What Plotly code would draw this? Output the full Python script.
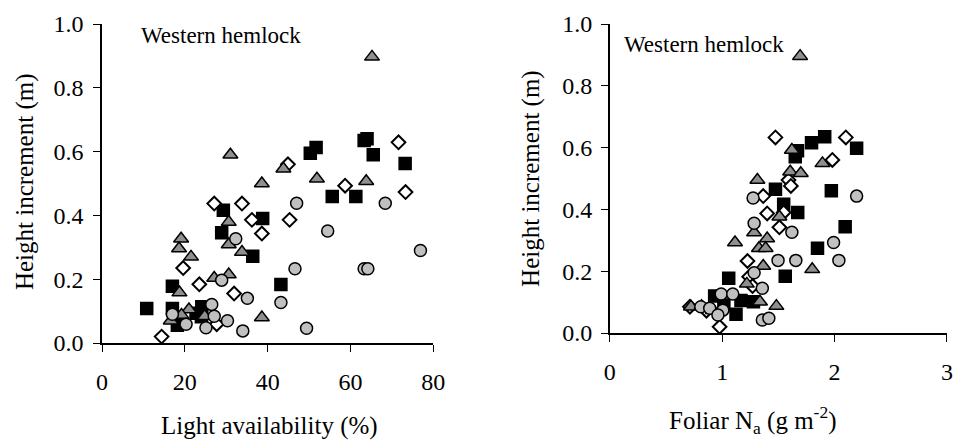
import plotly.graph_objects as go

# ---------- Left panel: Light availability (%) vs height increment (m) ----------
light_sq_x = [63.3, 64.0, 51.7, 50.3, 65.5, 73.2, 55.6, 61.3, 38.8, 29.3, 28.9, 36.4, 43.2, 17.0, 10.8, 17.0, 24.1, 22.7, 24.0, 18.2]
light_sq_y = [0.635, 0.64, 0.613, 0.595, 0.59, 0.563, 0.459, 0.459, 0.39, 0.416, 0.346, 0.272, 0.183, 0.178, 0.108, 0.108, 0.114, 0.093, 0.082, 0.056]

light_di_x = [71.6, 44.9, 58.7, 73.3, 45.3, 27.1, 33.8, 36.2, 38.6, 19.6, 23.5, 31.9, 27.7, 14.4]
light_di_y = [0.629, 0.56, 0.493, 0.473, 0.386, 0.437, 0.437, 0.386, 0.343, 0.235, 0.184, 0.155, 0.059, 0.02]

light_tr_x = [65.2, 31.0, 43.8, 38.6, 51.9, 63.8, 30.6, 19.1, 18.6, 30.6, 33.8, 21.5, 27.1, 30.6, 18.7, 21.0, 19.2, 16.6, 24.8, 38.6]
light_tr_y = [0.897, 0.59, 0.546, 0.50, 0.515, 0.507, 0.379, 0.327, 0.296, 0.309, 0.285, 0.27, 0.204, 0.215, 0.158, 0.105, 0.0875, 0.07, 0.084, 0.08]

light_ci_x = [47.0, 68.4, 54.5, 76.9, 46.6, 63.3, 64.2, 43.2, 49.4, 32.3, 28.9, 35.1, 26.5, 17.0, 20.3, 27.1, 25.1, 30.3, 34.0]
light_ci_y = [0.438, 0.438, 0.351, 0.29, 0.233, 0.233, 0.233, 0.127, 0.046, 0.327, 0.197, 0.14, 0.121, 0.09, 0.059, 0.084, 0.048, 0.07, 0.038]

# ---------- Right panel: Foliar Na (g m-2) vs height increment (m) ----------
n_sq_x = [1.474, 1.67, 1.65, 1.795, 1.912, 2.196, 1.971, 1.547, 1.672, 2.094, 1.848, 1.561, 1.278, 1.058, 0.933, 1.167, 1.015, 1.123]
n_sq_y = [0.465, 0.59, 0.57, 0.616, 0.635, 0.598, 0.46, 0.417, 0.39, 0.344, 0.274, 0.184, 0.101, 0.177, 0.12, 0.105, 0.091, 0.061]

n_di_x = [1.474, 2.10, 1.98, 1.59, 1.611, 1.365, 1.40, 1.547, 1.509, 1.225, 1.24, 1.27, 0.713, 0.86, 0.977]
n_di_y = [0.633, 0.633, 0.56, 0.495, 0.476, 0.443, 0.387, 0.39, 0.342, 0.233, 0.182, 0.152, 0.085, 0.072, 0.02]

n_tr_x = [1.693, 1.313, 1.62, 1.892, 1.605, 1.699, 1.509, 1.284, 1.40, 1.114, 1.327, 1.386, 1.365, 1.801, 1.219, 1.336, 1.482, 0.722, 0.816, 0.918]
n_tr_y = [0.896, 0.495, 0.592, 0.549, 0.522, 0.517, 0.376, 0.325, 0.306, 0.293, 0.274, 0.274, 0.217, 0.206, 0.159, 0.101, 0.087, 0.085, 0.087, 0.074]

n_ci_x = [2.196, 1.275, 1.284, 1.62, 1.991, 1.497, 1.655, 2.038, 1.284, 1.357, 1.357, 1.415, 0.991, 1.094, 0.81, 0.889, 1.006, 0.962]
n_ci_y = [0.443, 0.437, 0.355, 0.326, 0.293, 0.235, 0.235, 0.235, 0.195, 0.145, 0.042, 0.048, 0.126, 0.126, 0.085, 0.08, 0.074, 0.058]

FONT = "Liberation Serif"

styles = {
    "sq": dict(symbol="square", size=12, color="#000000", line=dict(color="#000000", width=1.5)),
    "di": dict(symbol="diamond", size=10.5, color="#ffffff", line=dict(color="#000000", width=2)),
    "tr": dict(symbol="triangle-up", size=13, color="#8f8f8f", line=dict(color="#000000", width=1.5)),
    "ci": dict(symbol="circle", size=12, color="#c0c0c0", line=dict(color="#000000", width=1.5)),
}

fig = go.Figure()

left = [("sq", light_sq_x, light_sq_y), ("di", light_di_x, light_di_y),
        ("tr", light_tr_x, light_tr_y), ("ci", light_ci_x, light_ci_y)]
right = [("sq", n_sq_x, n_sq_y), ("di", n_di_x, n_di_y),
         ("tr", n_tr_x, n_tr_y), ("ci", n_ci_x, n_ci_y)]

for key, xs, ys in left:
    fig.add_trace(go.Scatter(x=xs, y=ys, mode="markers", marker=styles[key],
                             xaxis="x", yaxis="y", cliponaxis=False, showlegend=False))
for key, xs, ys in right:
    fig.add_trace(go.Scatter(x=xs, y=ys, mode="markers", marker=styles[key],
                             xaxis="x2", yaxis="y2", cliponaxis=False, showlegend=False))

axis_common = dict(showline=True, linecolor="#000000", linewidth=1.5, ticks="outside",
                   ticklen=7, tickwidth=1.2, tickcolor="#000000", showgrid=False,
                   zeroline=False, tickfont=dict(family=FONT, size=24, color="#000000"))

# pixel geometry: plot area x 102..959, y 24..343
W, H = 966, 444
ml, mr, mt, mb = 102, 7, 24, 101
pw = W - ml - mr
ph = H - mt - mb

def px(x):
    return (x - ml) / pw

def py(y):
    return (H - mb - y) / ph

fig.update_layout(
    width=W, height=H,
    margin=dict(l=ml, r=mr, t=mt, b=mb),
    paper_bgcolor="#ffffff", plot_bgcolor="#ffffff",
    font=dict(family=FONT, color="#000000"),
    xaxis=dict(domain=[0, px(438)], range=[0, 80], tickvals=[0, 20, 40, 60, 80],
               anchor="y", ticklabelstandoff=9, **axis_common),
    yaxis=dict(domain=[0, 1], range=[0, 1], tickvals=[0, 0.2, 0.4, 0.6, 0.8, 1.0],
               tickformat=".1f", anchor="x", ticklabelstandoff=5, **axis_common),
    xaxis2=dict(domain=[px(617), 1], range=[0, 3], tickvals=[0, 1, 2, 3],
                anchor="y2", ticklabelstandoff=9, **axis_common),
    yaxis2=dict(domain=[py(333), 1], range=[0, 1], tickvals=[0, 0.2, 0.4, 0.6, 0.8, 1.0],
                tickformat=".1f", anchor="x2", ticklabelstandoff=4, **axis_common),
)

annots = [
    dict(text="Western hemlock", x=px(140), y=py(36), xanchor="left", yanchor="middle", size=23),
    dict(text="Western hemlock", x=px(629), y=py(44), xanchor="left", yanchor="middle", size=23),
    dict(text="Light availability (%)", x=px(272), y=py(426), xanchor="center", yanchor="middle", size=25),
    dict(text="Foliar N<sub>a</sub> (g m<sup>-2</sup>)", x=px(762), y=py(420), xanchor="center", yanchor="middle", size=25),
    dict(text="Height increment (m)", x=px(24), y=py(182), xanchor="center", yanchor="middle", size=25, angle=-90),
    dict(text="Height increment (m)", x=px(537), y=py(178), xanchor="center", yanchor="middle", size=25, angle=-90),
]
for a in annots:
    fig.add_annotation(text=a["text"], x=a["x"], y=a["y"], xref="paper", yref="paper",
                       xanchor=a["xanchor"], yanchor=a["yanchor"], showarrow=False,
                       textangle=a.get("angle", 0),
                       font=dict(family=FONT, size=a["size"], color="#000000"))

fig.write_html("out.html")
